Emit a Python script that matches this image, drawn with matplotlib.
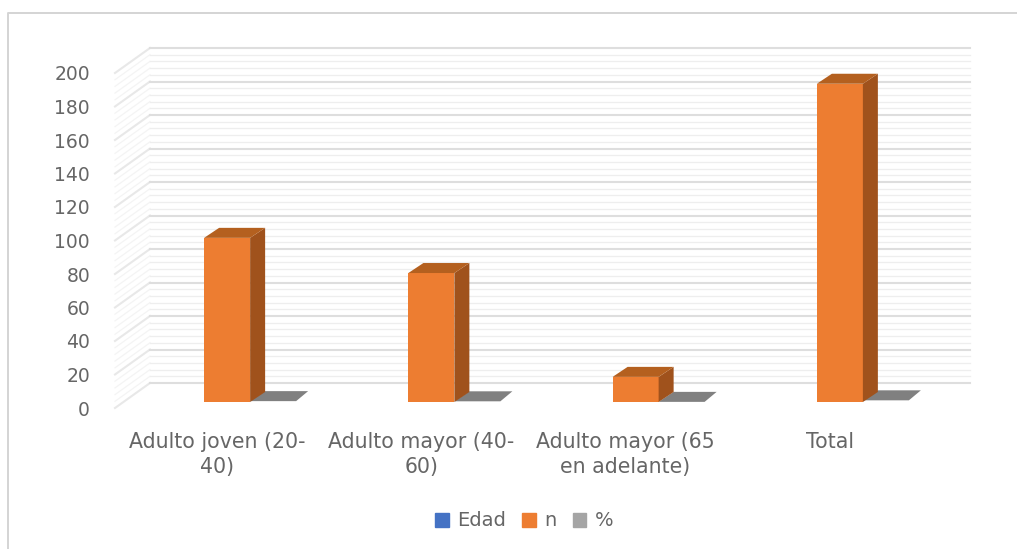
import matplotlib
matplotlib.use("Agg")
import matplotlib.pyplot as plt
from matplotlib.patches import Patch
from matplotlib.lines import Line2D

categories = ["Adulto joven (20-\n40)", "Adulto mayor (40-\n60)", "Adulto mayor (65\nen adelante)", "Total"]
edad = [0, 0, 0, 0]
n_values = [98, 77, 15, 190]
pct_values = [0.52, 0.41, 0.08, 1.0]
y_ticks = list(range(0, 201, 20))
minor_ticks = [v for v in range(0, 201, 4) if v % 20 != 0]

W, H = 1017, 549
plt.rcParams['font.family'] = ['DejaVu Sans']
fig = plt.figure(figsize=(W / 100, H / 100), dpi=100, facecolor='white')

left, right = 115, 932
y0, y200 = 408, 73
ax = fig.add_axes([left / W, 1 - y0 / H, (right - left) / W, (y0 - y200) / H])
ax.set_xlim(-0.5, 3.5)
ax.set_ylim(0, 200)
ax.patch.set_alpha(0)
for s in ax.spines.values():
    s.set_visible(False)

px = (right - left) / 4
py = (y0 - y200) / 200

# wall / floor depth and bar placement, in data units
wall_dx, wall_dy = 35 / px, 25 / py
wall_end = 3.5 + 38 / px
bar_dx, bar_dy = 15 / px, 10 / py
shift_x, base = 10 / px, 6 / py
bw = 46 / px
grey_top_w = 43 / px

def grid(v, color, diag, lw):
    ax.plot([-0.5, -0.5 + wall_dx], [v, v + wall_dy], color=diag, lw=lw, clip_on=False, zorder=1)
    ax.plot([-0.5 + wall_dx, wall_end], [v + wall_dy, v + wall_dy], color=color, lw=lw, clip_on=False, zorder=1)

for v in minor_ticks:
    grid(v, '#eeeeee', '#f4f4f4', 0.9)
for v in y_ticks:
    grid(v, '#dedede', '#e8e8e8', 1.5)

for i, v in enumerate(n_values):
    x0 = i + shift_x - bw / 2
    x1 = x0 + bw
    top = base + v
    ax.bar(x0, v, width=bw, bottom=base, align='edge', color='#ED7D31', zorder=4, clip_on=False)
    ax.fill([x1, x1 + bar_dx, x1 + bar_dx, x1],
            [base, base + bar_dy, top + bar_dy, top],
            color='#A0521C', lw=0, zorder=4, clip_on=False)
    ax.fill([x0, x0 + bar_dx, x1 + bar_dx, x1],
            [top, top + bar_dy, top + bar_dy, top],
            color='#B4601F', lw=0, zorder=4, clip_on=False)

for i, v in enumerate(pct_values):
    x0 = i + shift_x + bw / 2
    x1 = x0 + bw
    ax.fill([x0, x0 + bar_dx, x0 + bar_dx + grey_top_w, x1],
            [base + v, base + v + bar_dy, base + v + bar_dy, base + v],
            color='#808080', lw=0, zorder=3, clip_on=False)

ax.set_yticks(y_ticks)
ax.set_xticks(range(len(categories)), categories)
ax.tick_params(axis='y', length=0, labelsize=13.5, labelcolor='#666666', pad=18)
ax.tick_params(axis='x', length=0, labelsize=14.8, labelcolor='#666666', pad=17)
for lab in ax.get_xticklabels():
    lab.set_linespacing(1.32)

handles = [Patch(color='#4472C4', label='Edad'), Patch(color='#ED7D31', label='n'), Patch(color='#A5A5A5', label='%')]
fig.legend(handles=handles, loc='center', bbox_to_anchor=(524 / W, 1 - 521 / H), ncol=3, frameon=False,
           fontsize=14, labelcolor='#666666', handlelength=0.7, handleheight=0.7,
           handletextpad=0.42, columnspacing=0.85)

# chart frame
fig.add_artist(Line2D([8 / W, 8 / W, 1], [0, 1 - 13 / H, 1 - 13 / H], color='#d4d4d4', lw=1.4))

fig.savefig('out.png', dpi=100)
